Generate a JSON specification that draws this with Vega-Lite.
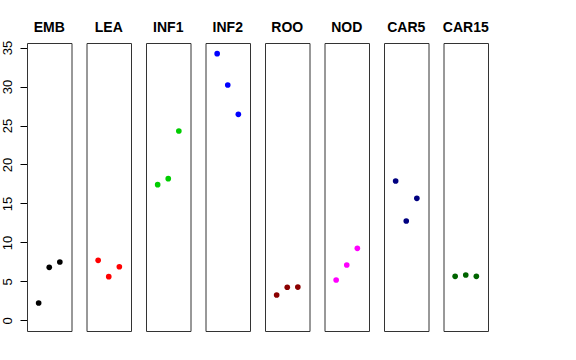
{
  "$schema": "https://vega.github.io/schema/vega-lite/v6.json",
  "background": "white",
  "padding": {"left": 1, "top": 21, "right": 5, "bottom": 5},
  "bounds": "flush",
  "data": {"values": [
    {"group": "EMB", "idx": 1, "value": 2.22},
    {"group": "EMB", "idx": 2, "value": 6.8},
    {"group": "EMB", "idx": 3, "value": 7.48},
    {"group": "LEA", "idx": 1, "value": 7.7},
    {"group": "LEA", "idx": 2, "value": 5.6},
    {"group": "LEA", "idx": 3, "value": 6.88},
    {"group": "INF1", "idx": 1, "value": 17.41},
    {"group": "INF1", "idx": 2, "value": 18.18},
    {"group": "INF1", "idx": 3, "value": 24.3},
    {"group": "INF2", "idx": 1, "value": 34.22},
    {"group": "INF2", "idx": 2, "value": 30.2},
    {"group": "INF2", "idx": 3, "value": 26.44},
    {"group": "ROO", "idx": 1, "value": 3.25},
    {"group": "ROO", "idx": 2, "value": 4.24},
    {"group": "ROO", "idx": 3, "value": 4.27},
    {"group": "NOD", "idx": 1, "value": 5.17},
    {"group": "NOD", "idx": 2, "value": 7.1},
    {"group": "NOD", "idx": 3, "value": 9.24},
    {"group": "CAR5", "idx": 1, "value": 17.88},
    {"group": "CAR5", "idx": 2, "value": 12.75},
    {"group": "CAR5", "idx": 3, "value": 15.66},
    {"group": "CAR15", "idx": 1, "value": 5.65},
    {"group": "CAR15", "idx": 2, "value": 5.82},
    {"group": "CAR15", "idx": 3, "value": 5.65}
  ]},
  "facet": {
    "column": {
      "field": "group",
      "type": "nominal",
      "sort": ["EMB", "LEA", "INF1", "INF2", "ROO", "NOD", "CAR5", "CAR15"],
      "title": null,
      "header": {
        "labelFont": "Liberation Sans",
        "labelFontSize": 14,
        "labelFontWeight": "bold",
        "labelColor": "black",
        "labelPadding": 8
      }
    }
  },
  "spacing": 14.5,
  "spec": {
    "width": 44.5,
    "height": 288,
    "mark": {"type": "circle", "size": 32, "opacity": 1},
    "encoding": {
      "x": {"field": "idx", "type": "quantitative", "scale": {"domain": [-0.1, 4.1], "nice": false, "zero": false}, "axis": null},
      "y": {
        "field": "value",
        "type": "quantitative",
        "scale": {"domain": [-1.37, 35.59], "nice": false, "zero": false},
        "axis": {
          "title": null,
          "values": [0, 5, 10, 15, 20, 25, 30, 35],
          "grid": false,
          "domain": false,
          "tickSize": 7,
          "tickColor": "black",
          "labelAngle": -90,
          "labelFont": "Liberation Sans",
          "labelFontSize": 13,
          "labelColor": "black",
          "labelPadding": 6
        }
      },
      "color": {
        "field": "group",
        "type": "nominal",
        "scale": {
          "domain": ["EMB", "LEA", "INF1", "INF2", "ROO", "NOD", "CAR5", "CAR15"],
          "range": ["#000000", "#FF0000", "#00CD00", "#0000FF", "#8B0000", "#FF00FF", "#000080", "#006400"]
        },
        "legend": null
      }
    }
  },
  "resolve": {"scale": {"y": "shared", "x": "shared"}},
  "config": {"view": {"stroke": "#333333", "strokeWidth": 1}}
}
